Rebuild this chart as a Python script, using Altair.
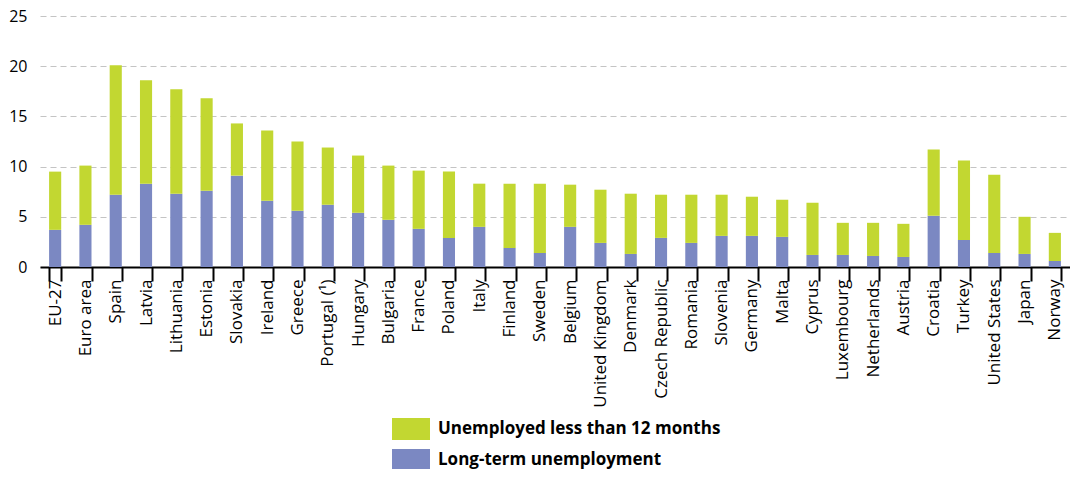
import altair as alt
import pandas as pd

countries = ["EU-27", "Euro area", "Spain", "Latvia", "Lithuania", "Estonia", "Slovakia",
             "Ireland", "Greece", "Portugal (¹)", "Hungary", "Bulgaria", "France", "Poland",
             "Italy", "Finland", "Sweden", "Belgium", "United Kingdom", "Denmark",
             "Czech Republic", "Romania", "Slovenia", "Germany", "Malta", "Cyprus",
             "Luxembourg", "Netherlands", "Austria", "Croatia", "Turkey", "United States",
             "Japan", "Norway"]
long_term = [3.7, 4.2, 7.2, 8.3, 7.3, 7.6, 9.1, 6.6, 5.6, 6.2, 5.4, 4.7, 3.8, 2.9, 4.0, 1.9,
             1.4, 4.0, 2.4, 1.3, 2.9, 2.4, 3.1, 3.1, 3.0, 1.2, 1.2, 1.1, 1.0, 5.1, 2.7, 1.4,
             1.3, 0.6]
short_term = [5.8, 5.9, 12.9, 10.3, 10.4, 9.2, 5.2, 7.0, 6.9, 5.7, 5.7, 5.4, 5.8, 6.6, 4.3,
              6.4, 6.9, 4.2, 5.3, 6.0, 4.3, 4.8, 4.1, 3.9, 3.7, 5.2, 3.2, 3.3, 3.3, 6.6, 7.9,
              7.8, 3.7, 2.8]

SHORT = "Unemployed less than 12 months"
LONG = "Long-term unemployment"
GREEN = "#C2D731"
PURPLE = "#7B88C2"
FONT = "Open Sans"

rows = []
for c, l, s in zip(countries, long_term, short_term):
    rows.append({"country": c, "series": LONG, "value": l, "ord": 0})
    rows.append({"country": c, "series": SHORT, "value": s, "ord": 1})
df = pd.DataFrame(rows)

chart = alt.Chart(df).mark_bar().encode(
    x=alt.X("country:N", sort=countries, title=None,
            scale=alt.Scale(paddingInner=0.6, paddingOuter=0.3),
            axis=alt.Axis(labelAngle=-90, labelAlign="right", labelBaseline="middle",
                          tickBand="extent", tickSize=14, tickWidth=2, tickColor="black",
                          domainColor="black", domainWidth=2, labelPadding=-2,
                          labelFont=FONT, labelFontSize=17, labelColor="black", grid=False)),
    y=alt.Y("value:Q", stack="zero", title=None,
            scale=alt.Scale(domain=[0, 25], nice=False),
            axis=alt.Axis(values=[0, 5, 10, 15, 20, 25], domain=False, ticks=False,
                          labelPadding=13, labelFont=FONT, labelFontSize=16,
                          labelColor="black", gridDash=[6, 4], gridColor="#c4c4c4",
                          gridWidth=1.2)),
    color=alt.Color("series:N",
                    scale=alt.Scale(domain=[SHORT, LONG], range=[GREEN, PURPLE]),
                    legend=alt.Legend(title=None, orient="none", legendX=352, legendY=394,
                                      symbolType="M-1,-0.579H1V0.579H-1Z", symbolSize=1444,
                                      symbolStrokeWidth=0, rowPadding=-7, labelFont=FONT,
                                      labelFontSize=17, labelFontWeight="bold",
                                      labelColor="black", labelOffset=8, labelLimit=0,
                                      padding=0)),
    order=alt.Order("ord:Q", sort="ascending"),
).properties(
    width=1030, height=251,
    padding={"left": 32, "top": 8, "right": 0, "bottom": 202},
    autosize=alt.AutoSizeParams(type="none"),
).configure_view(stroke=None)

chart.save("out.html", embed_options={"renderer": "svg", "actions": False})
